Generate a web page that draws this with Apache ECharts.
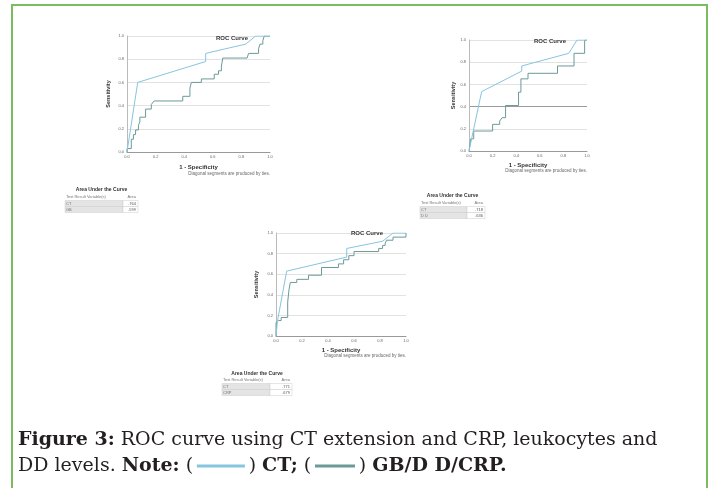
<!DOCTYPE html>
<html>
<head>
    <meta charset="UTF-8">
    <title>ROC Curve</title>
    <script src="https://cdn.jsdelivr.net/npm/echarts@6/dist/echarts.min.js"></script>
    <style>
        body { margin: 0; background: #fff; }
    </style>
</head>
<body>
<div id="main" style="width: 713px;height:488px;"></div>
<script>
    // ROC points: [1 - specificity, sensitivity]
    var ct1 = [[0, 0], [0.075, 0.6], [0.55, 0.78], [0.55, 0.85], [0.83, 0.93], [0.9, 1], [1, 1]];
    var gb1 = [[0, 0], [0, 0.03], [0.03, 0.03], [0.03, 0.11], [0.045, 0.11], [0.045, 0.15], [0.06, 0.15], [0.06, 0.19],
        [0.08, 0.19], [0.08, 0.23], [0.09, 0.26], [0.09, 0.3], [0.13, 0.3], [0.13, 0.37], [0.17, 0.37], [0.17, 0.41],
        [0.19, 0.44], [0.39, 0.44], [0.39, 0.48], [0.44, 0.48], [0.44, 0.55], [0.45, 0.6], [0.52, 0.6], [0.52, 0.63],
        [0.61, 0.63], [0.61, 0.67], [0.64, 0.67], [0.64, 0.7], [0.66, 0.7], [0.66, 0.74], [0.67, 0.74], [0.67, 0.81],
        [0.84, 0.81], [0.85, 0.85], [0.92, 0.85], [0.92, 0.89], [0.93, 0.89], [0.93, 0.93], [0.95, 0.93], [0.95, 0.96],
        [0.96, 1], [1, 1]];

    var ct2 = [[0, 0], [0.107, 0.535], [0.447, 0.72], [0.447, 0.766], [0.845, 0.88], [0.916, 1], [1, 1]];
    var dd2 = [[0, 0], [0.015, 0], [0.015, 0.11], [0.04, 0.11], [0.04, 0.18], [0.2, 0.18], [0.2, 0.24], [0.26, 0.24],
        [0.26, 0.27], [0.28, 0.3], [0.31, 0.3], [0.31, 0.41], [0.42, 0.41], [0.42, 0.53], [0.44, 0.53], [0.44, 0.65],
        [0.5, 0.65], [0.5, 0.7], [0.75, 0.7], [0.75, 0.766], [0.89, 0.766], [0.89, 0.88], [0.98, 0.88], [0.98, 1], [1, 1]];

    var ct3 = [[0, 0], [0.012, 0.15], [0.082, 0.63], [0.544, 0.766], [0.544, 0.85], [0.82, 0.92], [0.9, 1], [1, 1]];
    var crp3 = [[0, 0], [0, 0.13], [0.018, 0.15], [0.04, 0.15], [0.04, 0.18], [0.09, 0.18], [0.09, 0.33], [0.1, 0.33],
        [0.1, 0.45], [0.11, 0.45], [0.11, 0.52], [0.16, 0.52], [0.16, 0.55], [0.25, 0.55], [0.25, 0.59], [0.35, 0.59],
        [0.35, 0.665], [0.48, 0.665], [0.48, 0.7], [0.52, 0.7], [0.52, 0.74], [0.56, 0.74], [0.56, 0.78], [0.6, 0.78],
        [0.6, 0.82], [0.79, 0.82], [0.79, 0.85], [0.82, 0.85], [0.82, 0.88], [0.84, 0.88], [0.84, 0.9], [0.85, 0.9],
        [0.85, 0.93], [0.9, 0.93], [0.9, 0.96], [1, 0.96], [1, 1]];

    // area under the curve tables
    var auc1Names = ['CT', 'GB'];
    var auc1Vals = ['.764', '.599'];
    var auc2Names = ['CT', 'D D'];
    var auc2Vals = ['.718', '.636'];
    var auc3Names = ['CT', 'CRP'];
    var auc3Vals = ['.771', '.679'];

    var blue = '#86c5df';
    var teal = '#6b9a98';
    var sans = 'Liberation Sans, Arial, sans-serif';

    // 布局
    var boxes = [
        {left: 127, top: 36, width: 143, height: 116, yGap: 16, xGap: 12, title: [227, 30], note: [270, 174]},
        {left: 469, top: 40, width: 118, height: 111, yGap: 12, xGap: 11, title: [545, 33], note: [587, 171]},
        {left: 276, top: 233, width: 130, height: 103, yGap: 17, xGap: 11, title: [362, 225], note: [406, 356]}
    ];
    var tables = [
        {names: auc1Names, vals: auc1Vals, x: 65, split: 123, right: 138, titleY: 190, headY: 197, lineY: 200.5, rowH: 6},
        {names: auc2Names, vals: auc2Vals, x: 420, split: 467, right: 485, titleY: 196, headY: 203, lineY: 206.5, rowH: 6},
        {names: auc3Names, vals: auc3Vals, x: 222, split: 270, right: 292, titleY: 374, headY: 380, lineY: 383.5, rowH: 6}
    ];

    var myChart = echarts.init(document.getElementById('main'));

    var grids = [], xAxes = [], yAxes = [], titles = [], series = [], graphics = [];

    boxes.forEach(function (b, i) {
        grids.push({left: b.left, top: b.top, width: b.width, height: b.height});
        xAxes.push({
            gridIndex: i, type: 'value', min: 0, max: 1, interval: 0.2,
            name: '1 - Specificity', nameLocation: 'middle', nameGap: b.xGap,
            nameTextStyle: {fontSize: 6, fontWeight: 'bold', color: '#333', fontFamily: sans},
            axisLine: {lineStyle: {color: '#999', width: 1}},
            axisTick: {show: false},
            axisLabel: {fontSize: 4, color: '#666', margin: 3, fontFamily: sans, formatter: function (v) { return v.toFixed(1); }},
            splitLine: {show: false}
        });
        yAxes.push({
            gridIndex: i, type: 'value', min: 0, max: 1, interval: 0.2,
            name: 'Sensitivity', nameLocation: 'middle', nameGap: b.yGap, nameRotate: 90,
            nameTextStyle: {fontSize: 5.5, fontWeight: 'bold', color: '#333', fontFamily: sans},
            axisLine: {show: true, lineStyle: {color: '#bbb', width: 1}},
            axisTick: {show: false},
            axisLabel: {fontSize: 4, color: '#666', margin: 3, fontFamily: sans, formatter: function (v) { return v.toFixed(1); }},
            splitLine: {lineStyle: {color: i === 1 ? ['#e2e2e2', '#e2e2e2', '#9a9a9a', '#e2e2e2', '#e2e2e2', '#e2e2e2'] : '#e2e2e2', width: 1}}
        });
        titles.push({
            text: 'ROC Curve', left: b.title[0], top: b.title[1], textAlign: 'center',
            textStyle: {fontSize: 6, fontWeight: 'bold', color: '#333', fontFamily: sans}
        });
        graphics.push({
            type: 'text', x: b.note[0], y: b.note[1],
            style: {text: 'Diagonal segments are produced by ties.', fill: '#666', font: '4.5px ' + sans, align: 'right', verticalAlign: 'middle'}
        });
    });

    [[ct1, gb1], [ct2, dd2], [ct3, crp3]].forEach(function (pair, i) {
        series.push({type: 'line', xAxisIndex: i, yAxisIndex: i, data: pair[1], symbol: 'none', silent: true,
            lineStyle: {color: teal, width: 1}});
        series.push({type: 'line', xAxisIndex: i, yAxisIndex: i, data: pair[0], symbol: 'none', silent: true,
            lineStyle: {color: blue, width: 1}});
    });

    // AUC tables as text
    tables.forEach(function (t) {
        var mid = (t.x + t.right) / 2;
        graphics.push({type: 'text', x: mid, y: t.titleY,
            style: {text: 'Area Under the Curve', fill: '#333', font: 'bold 5px ' + sans, align: 'center', verticalAlign: 'middle'}});
        graphics.push({type: 'text', x: t.x + 1, y: t.headY,
            style: {text: 'Test Result Variable(s)', fill: '#777', font: '4px ' + sans, align: 'left', verticalAlign: 'middle'}});
        graphics.push({type: 'text', x: t.right - 2, y: t.headY,
            style: {text: 'Area', fill: '#777', font: '4px ' + sans, align: 'right', verticalAlign: 'middle'}});
        t.names.forEach(function (n, k) {
            var top = t.lineY + k * t.rowH;
            graphics.push({type: 'rect', shape: {x: t.x, y: top, width: t.split - t.x, height: t.rowH},
                style: {fill: '#e4e4e4', stroke: '#ccc', lineWidth: 0.5}});
            graphics.push({type: 'rect', shape: {x: t.split, y: top, width: t.right - t.split, height: t.rowH},
                style: {fill: '#fff', stroke: '#ccc', lineWidth: 0.5}});
            graphics.push({type: 'text', x: t.x + 1, y: top + t.rowH / 2,
                style: {text: n, fill: '#777', font: '4px ' + sans, align: 'left', verticalAlign: 'middle'}});
            graphics.push({type: 'text', x: t.right - 2, y: top + t.rowH / 2,
                style: {text: t.vals[k], fill: '#555', font: '4px ' + sans, align: 'right', verticalAlign: 'middle'}});
        });
    });

    // frame
    graphics.push({type: 'polyline', shape: {points: [[12, 500], [12, 5], [707, 5], [707, 500]]},
        style: {stroke: '#7cbb5f', lineWidth: 2, fill: null}});

    // caption
    var serif = '"DejaVu Serif", "Liberation Serif", serif';
    graphics.push({
        type: 'text', x: 18, y: 453,
        style: {
            text: '{b|Figure 3:} ROC curve using CT extension and CRP, leukocytes and\nDD levels. {b|Note:} (\u2009{ct|\u00a0}\u2009) {b|CT;} (\u2009{gb|\u00a0}\u2009) {b|GB/D D/CRP.}',
            font: '19px ' + serif, fill: '#231f20', lineHeight: 26, verticalAlign: 'middle',
            rich: {
                b: {fontWeight: 'bold', fontSize: 19, fontFamily: serif, fill: '#231f20', lineHeight: 26},
                ct: {width: 48, height: 3, backgroundColor: blue, lineHeight: 26},
                gb: {width: 40, height: 3, backgroundColor: teal, lineHeight: 26}
            }
        }
    });

    var option = {
        backgroundColor: '#fff',
        animation: false,
        title: titles,
        grid: grids,
        xAxis: xAxes,
        yAxis: yAxes,
        series: series,
        graphic: graphics
    };

    myChart.setOption(option);
</script>
</body>
</html>
